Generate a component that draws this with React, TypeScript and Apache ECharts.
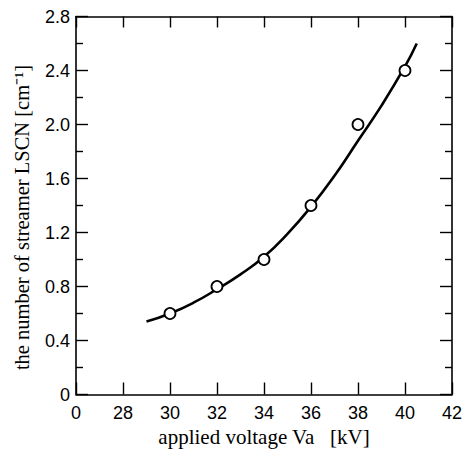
import React, { useEffect, useRef } from "react";
import * as echarts from "echarts";

const measuredVoltage = [30, 32, 34, 36, 38, 40];
const measuredLscn = [0.6, 0.8, 1.0, 1.4, 2.0, 2.4];

const curveVoltage = [29, 30, 31, 32, 33, 34, 35, 36, 37, 38, 39, 40, 40.5];
const curveLscn = [0.54, 0.6, 0.68, 0.78, 0.89, 1.02, 1.19, 1.39, 1.62, 1.88, 2.14, 2.43, 2.6];

const xTitle = "applied voltage Va   [kV]";
const yTitle = "the number of streamer LSCN [cm⁻¹]";

export default function App() {
  const ref = useRef<HTMLDivElement>(null);
  useEffect(() => {
    if (!ref.current) return;
    const chart = echarts.init(ref.current, null, { renderer: "svg" });
    const tickFont = { fontFamily: "Liberation Sans, Arial, sans-serif", fontSize: 18, color: "#000" };
    const serif = "Liberation Serif, Times New Roman, serif";
    const axisLine = { show: true, onZero: false, lineStyle: { color: "#000", width: 1.6 } };
    chart.setOption({
      animation: false,
      backgroundColor: "#fff",
      grid: { left: 76, right: 9, top: 16.5, bottom: 59.5, containLabel: false },
      xAxis: [
        {
          type: "value",
          min: 26,
          max: 42,
          interval: 2,
          position: "bottom",
          axisLine,
          axisTick: { show: true, inside: true, length: 12, lineStyle: { color: "#000", width: 1.4 } },
          splitLine: { show: false },
          axisLabel: {
            ...tickFont,
            margin: 9,
            formatter: (v: number) => (v === 26 ? "0" : String(v)),
          },
          name: xTitle,
          nameLocation: "middle",
          nameGap: 32,
          nameTextStyle: { fontFamily: serif, fontSize: 21, color: "#000" },
        },
        {
          type: "value",
          min: 26,
          max: 42,
          interval: 2,
          position: "top",
          axisLine,
          axisTick: { show: true, inside: true, length: 11, lineStyle: { color: "#000", width: 1.4 } },
          axisLabel: { show: false },
          splitLine: { show: false },
        },
      ],
      yAxis: [
        {
          type: "value",
          min: 0,
          max: 2.8,
          interval: 0.4,
          position: "left",
          axisLine,
          axisTick: { show: true, inside: true, length: 12, lineStyle: { color: "#000", width: 1.4 } },
          minorTick: { show: true, splitNumber: 2, length: 7, lineStyle: { color: "#000", width: 1.4 } },
          splitLine: { show: false },
          axisLabel: {
            ...tickFont,
            margin: 6,
            formatter: (v: number) => (v === 0 ? "0" : v.toFixed(1)),
          },
          name: yTitle,
          nameLocation: "middle",
          nameGap: 44,
          nameTextStyle: { fontFamily: serif, fontSize: 20.5, color: "#000", padding: [0, 24, 0, 0] },
        },
        {
          type: "value",
          min: 0,
          max: 2.8,
          interval: 0.4,
          position: "right",
          axisLine,
          axisTick: { show: true, inside: true, length: 12, lineStyle: { color: "#000", width: 1.4 } },
          minorTick: { show: true, splitNumber: 2, length: 7, lineStyle: { color: "#000", width: 1.4 } },
          axisLabel: { show: false },
          splitLine: { show: false },
        },
      ],
      series: [
        {
          type: "line",
          name: "fit",
          data: curveVoltage.map((v, i) => [v, curveLscn[i]]),
          smooth: true,
          showSymbol: false,
          lineStyle: { color: "#000", width: 2.6 },
          z: 2,
        },
        {
          type: "scatter",
          name: "measured",
          data: measuredVoltage.map((v, i) => [v, measuredLscn[i]]),
          symbol: "circle",
          symbolSize: 11,
          itemStyle: { color: "#fff", opacity: 1, borderColor: "#000", borderWidth: 1.8 },
          z: 3,
        },
      ],
    });
    return () => chart.dispose();
  }, []);
  return <div ref={ref} style={{ width: 465, height: 454, position: "absolute", left: 0, top: 0 }} />;
}
